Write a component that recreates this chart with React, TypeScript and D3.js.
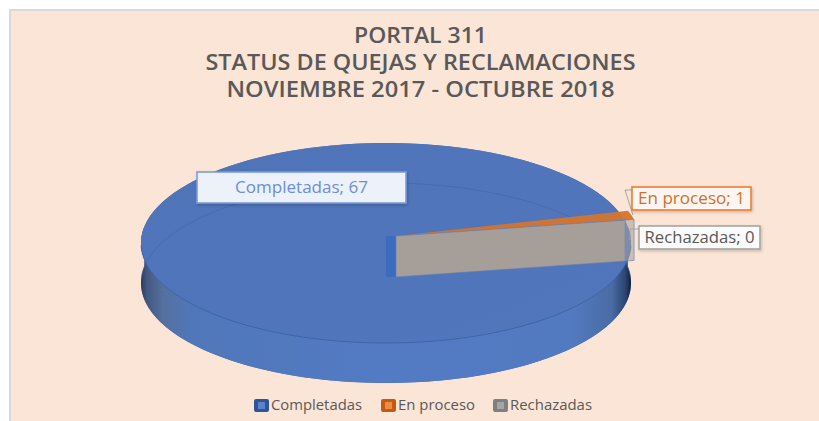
import * as React from "react";
import * as d3 from "d3";

const categories = ["Completadas", "En proceso", "Rechazadas"];
const values = [67, 1, 0];
const titleLines = [
  "PORTAL 311",
  "STATUS DE QUEJAS Y RECLAMACIONES",
  "NOVIEMBRE 2017 - OCTUBRE 2018",
];
const titleWidths = [133, 430, 388];
const legendWidths = [91, 77, 82];

const width = 819;
const height = 421;
const font = "'Open Sans', sans-serif";

// pie geometry
const cx = 386;
const cy = 236;
const radiusX = 244.4;
const radiusY = 99.5;
const tilt = 0.07; // perspective: the front of the disc looks bigger
const depth = 40;
const explode = 10;
const firstAngle = (80.3 * Math.PI) / 180;

const color = d3
  .scaleOrdinal<string, string>()
  .domain(categories)
  .range(["#4f75b8", "#d4742f", "#a69e98"]);
const legendEdge = d3
  .scaleOrdinal<string, string>()
  .domain(categories)
  .range(["#2f5597", "#c55a11", "#7f7f7f"]);
const legendInner = d3
  .scaleOrdinal<string, string>()
  .domain(categories)
  .range(["#5b82cc", "#ed8b45", "#a5a5a5"]);
const legendX = d3
  .scaleOrdinal<string, number>()
  .domain(categories)
  .range([254, 381, 493]);

type Pt = [number, number];

// circle angle to screen position
const project = (a: number, drop = 0, shift = 0): Pt => {
  const w = 1 + tilt * Math.cos(a);
  return [
    cx + shift + (radiusX * Math.sin(a)) / w,
    cy + drop - (radiusY * Math.cos(a)) / w,
  ];
};

const sweep = (a0: number, a1: number, drop = 0, shift = 0): Pt[] =>
  d3.range(0, 121).map((i) => project(a0 + ((a1 - a0) * i) / 120, drop, shift));

const line = d3.line<Pt>();

const Slices = () => {
  const arcs = d3
    .pie<number>()
    .sort(null)
    .startAngle(firstAngle)
    .endAngle(firstAngle + 2 * Math.PI)(values);
  const [blue, orange, gray] = arcs;

  const frontAngles = d3
    .range(0, 121)
    .map((i) => (Math.PI * 0.47) + (Math.PI * 1.06 * i) / 120);
  const side = d3
    .area<number>()
    .x((a) => project(a)[0])
    .y0((a) => project(a)[1])
    .y1((a) => project(a, depth)[1]);

  const apex: Pt = [cx + explode, cy];
  const wallEnd = project(gray.startAngle, 0, explode);

  return (
    <g>
      <path d={line(sweep(0, 2 * Math.PI, depth)) + "Z"} fill={color(categories[0])} />
      <path d={side(frontAngles) ?? ""} fill="url(#sideShade)" />
      <path d={line(sweep(0, 2 * Math.PI)) + "Z"} fill={color(categories[0])} />
      <path
        d={line([[cx, cy], ...sweep(blue.startAngle, blue.endAngle)]) + "Z"}
        fill="url(#topShade)"
      />
      <path
        d={line(sweep(Math.PI * 1.5, Math.PI * 2.5, depth)) ?? ""}
        fill="none"
        stroke="#3f66a8"
        strokeOpacity={0.6}
      />
      <path
        d={line(sweep(Math.PI * 0.53, Math.PI * 1.47)) ?? ""}
        fill="none"
        stroke="#3a60a6"
        strokeOpacity={0.8}
      />
      <path
        d={line([[cx, cy], apex, [cx + explode, cy + depth + 1], [cx, cy + depth + 1]]) + "Z"}
        fill="#3c6cc0"
      />
      <path
        d={line([apex, ...sweep(orange.startAngle, orange.endAngle, 0, explode)]) + "Z"}
        fill={color(categories[1])}
        fillOpacity={0.95}
      />
      <path
        d={line([apex, wallEnd, [wallEnd[0], wallEnd[1] + depth + 1], [apex[0], cy + depth + 1]]) + "Z"}
        fill="url(#wallShade)"
        stroke="#5f7fb8"
        strokeOpacity={0.6}
      />
      <path
        d={line([
          [wallEnd[0] - 9, wallEnd[1]],
          [wallEnd[0] - 9, wallEnd[1] + depth + 1],
        ]) ?? ""}
        stroke="#6f8cc4"
        strokeOpacity={0.8}
        fill="none"
      />
    </g>
  );
};

const DataLabel = ({ index, x, y, w, h, fill, stroke, text, textW }: any) => (
  <g>
    <rect x={x} y={y} width={w} height={h} fill={fill} stroke={stroke} strokeWidth={1.6} filter="url(#labelShadow)" />
    <text
      x={x + w / 2}
      y={y + h / 2 + 5.5}
      textAnchor="middle"
      fontFamily={font}
      fontSize={15.5}
      fill={text}
      textLength={textW}
      lengthAdjust="spacingAndGlyphs"
    >
      {`${categories[index]}; ${values[index]}`}
    </text>
  </g>
);

const App = () => {
  return (
    <svg
      width={width}
      height={height}
      style={{ position: "absolute", left: 0, top: 0, background: "#ffffff" }}
    >
      <defs>
        <linearGradient id="sideShade" x1="0" x2="1" y1="0" y2="0">
          <stop offset="0" stopColor="#2d3b58" />
          <stop offset="0.012" stopColor="#43587f" />
          <stop offset="0.045" stopColor="#54709f" />
          <stop offset="0.1" stopColor="#5077b9" />
          <stop offset="0.5" stopColor="#537bc4" />
          <stop offset="0.88" stopColor="#527ac0" />
          <stop offset="0.96" stopColor="#4a6ca5" />
          <stop offset="0.988" stopColor="#2c4674" />
          <stop offset="1" stopColor="#141e34" />
        </linearGradient>
        <linearGradient id="topShade" x1="0" x2="1" y1="0" y2="1">
          <stop offset="0" stopColor="#4f74b8" />
          <stop offset="1" stopColor="#5176bc" />
        </linearGradient>
        <linearGradient id="wallShade" x1="0" x2="1" y1="0" y2="0">
          <stop offset="0.96" stopColor="#a69e98" />
          <stop offset="0.96" stopColor="#a69e98" stopOpacity={0.55} />
        </linearGradient>
        <filter id="labelShadow" x="-10%" y="-20%" width="120%" height="150%">
          <feDropShadow dx="1" dy="1.5" stdDeviation="1.5" floodColor="#000000" floodOpacity={0.2} />
        </filter>
      </defs>

      <rect x={10} y={10} width={width} height={height} fill="#fbe5d6" stroke="#d9d9d9" strokeWidth={2} />

      {titleLines.map((t, i) => (
        <text
          key={t}
          x={420.5}
          y={43 + i * 27}
          textAnchor="middle"
          fontFamily={font}
          fontWeight={600}
          fontSize={21}
          fill="#595959"
          textLength={titleWidths[i]}
          lengthAdjust="spacingAndGlyphs"
        >
          {t}
        </text>
      ))}

      <Slices />

      <path d="M632,190H625L633,215" fill="none" stroke="#a5a5a5" />
      <path d="M639,229H630V240" fill="none" stroke="#a5a5a5" />

      <DataLabel index={0} x={197} y={172} w={209} h={31} fill="#edf1fa" stroke="#7a9cdc" text="#6a8fd6" textW={133} />
      <DataLabel index={1} x={632} y={187} w={119} h={23} fill="#fdf6f0" stroke="#ed7d31" text="#d0702f" textW={107} />
      <DataLabel index={2} x={639} y={226} w={121} h={23} fill="#fbfbfb" stroke="#a5a5a5" text="#595959" textW={110} />

      {categories.map((c, i) => (
        <g key={c}>
          <rect x={legendX(c)} y={399} width={15} height={13} rx={2} fill={legendEdge(c)} />
          <rect x={legendX(c) + 4} y={402} width={7} height={7} fill={legendInner(c)} />
          <text
            x={legendX(c) + 17}
            y={410}
            fontFamily={font}
            fontSize={14}
            fill="#595959"
            textLength={legendWidths[i]}
            lengthAdjust="spacingAndGlyphs"
          >
            {c}
          </text>
        </g>
      ))}
    </svg>
  );
};

export default App;
